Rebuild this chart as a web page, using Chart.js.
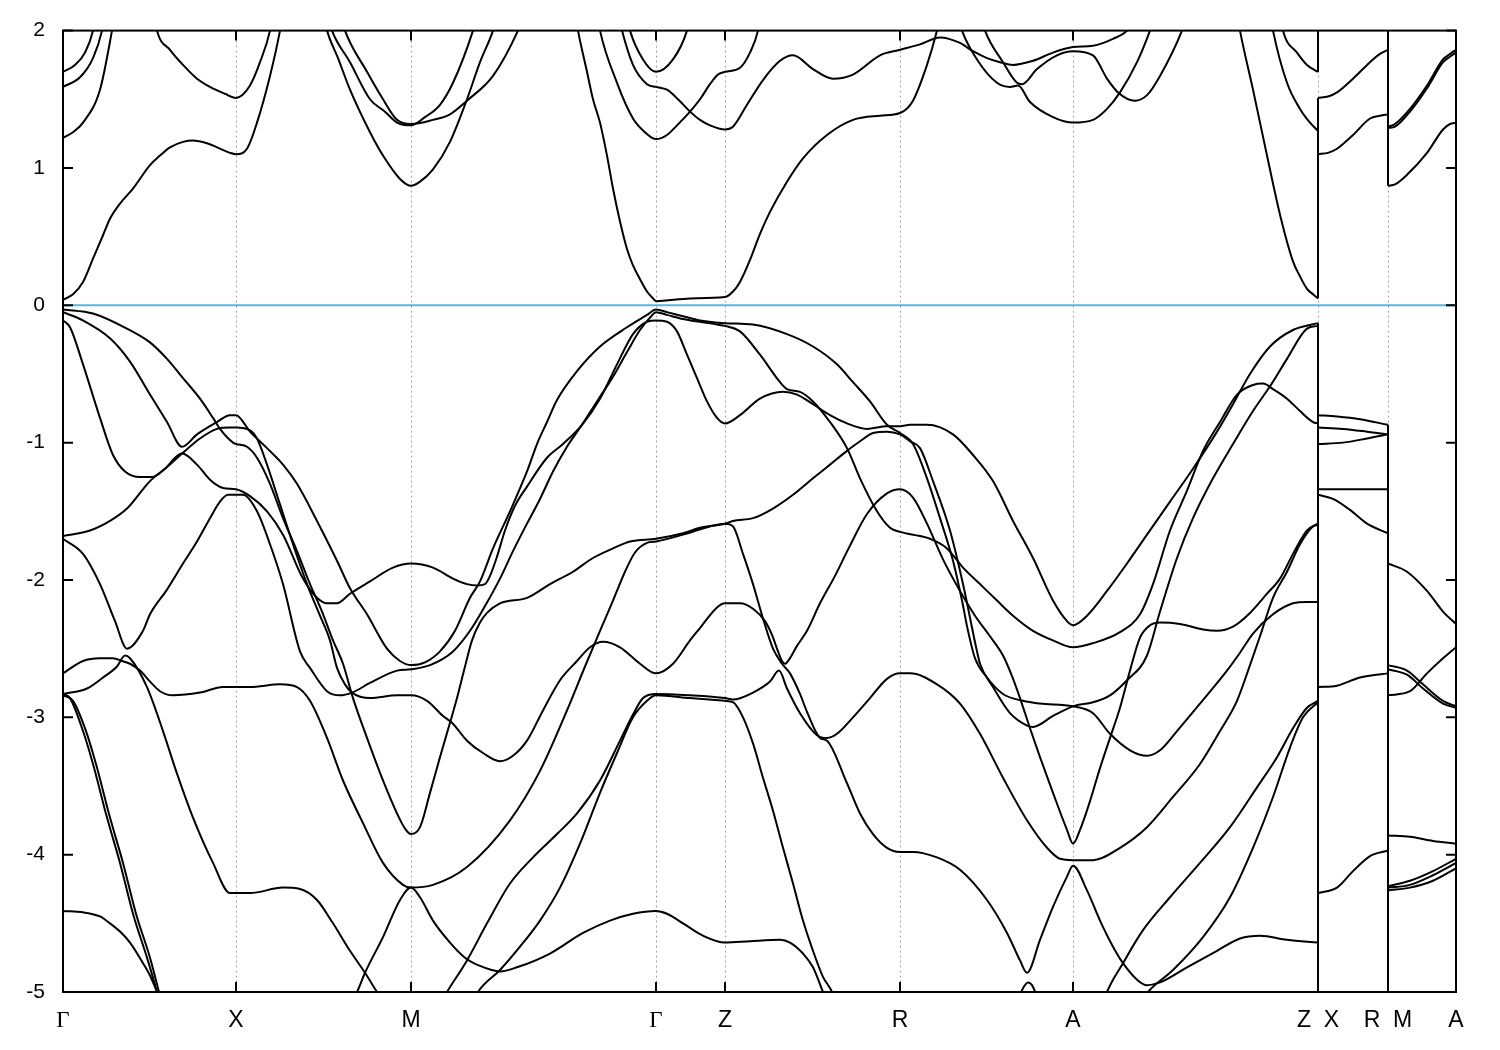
<!DOCTYPE html>
<html>
<head>
<meta charset="utf-8">
<script src="https://cdn.jsdelivr.net/npm/chart.js@4.4.1/dist/chart.umd.min.js"></script>
<style>
  html, body { margin: 0; padding: 0; background: #ffffff; }
  #wrap { width: 1500px; height: 1050px; }
</style>
</head>
<body>
<div id="wrap"><canvas id="bands" width="1500" height="1050"></canvas></div>
<script>
// k-path: high-symmetry points (path distance) and their labels
const kTicks = [0, 173, 348, 593, 662, 837, 1010, 1255, 1325, 1393];
const kLabels = ['Γ', 'X', 'M', 'Γ', 'Z', 'R', 'A', 'Z  X', 'R  M', 'A'];
const energyTicks = [-5, -4, -3, -2, -1, 0, 1, 2];
const fermiLevel = 0;

// conduction bands, [k, E in eV]
const cond01 = [[0,0.04],[10,0.08],[20,0.17],[30,0.34],[40,0.51],[47,0.63],[57,0.74],[70,0.85],[87,1.02],[97,1.09],[107,1.15],[120,1.19],[130,1.20],[144,1.18],[154,1.15],[167,1.11],[173,1.10],[184,1.14],[194,1.33],[207,1.67],[217,2.0],[220,2.13]];
const cond02 = [[0,1.22],[10,1.26],[20,1.33],[37,1.57],[49,2.0],[52,2.13]];
const cond03 = [[0,1.59],[17,1.66],[30,1.80],[39,2.0],[42,2.13]];
const cond04 = [[0,1.70],[12,1.75],[22,1.84],[30,2.0],[33,2.13]];
const cond05 = [[91,2.13],[94,2.0],[107,1.86],[120,1.75],[134,1.65],[147,1.59],[162,1.54],[173,1.51],[187,1.60],[197,1.77],[207,2.0],[210,2.13]];
const cond06 = [[260,2.13],[264,2.0],[275,1.80],[287,1.57],[307,1.26],[320,1.09],[337,0.92],[348,0.87],[357,0.90],[370,0.99],[387,1.19],[404,1.50],[417,1.77],[430,2.0],[435,2.13]];
const cond07 = [[264,2.13],[269,2.0],[287,1.77],[307,1.50],[322,1.41],[334,1.33],[348,1.31],[362,1.37],[377,1.46],[390,1.62],[410,2.0],[415,2.13]];
const cond08 = [[277,2.13],[282,2.0],[304,1.70],[320,1.50],[334,1.35],[348,1.32],[370,1.35],[387,1.39],[404,1.49],[430,1.67],[455,2.0],[462,2.13]];
const cond09 = [[512,2.13],[515,2.0],[524,1.70],[530,1.50],[537,1.33],[544,1.09],[550,0.85],[557,0.61],[564,0.41],[570,0.29],[577,0.19],[584,0.10],[590,0.05],[593,0.03],[627,0.05],[662,0.06],[670,0.10],[677,0.17],[687,0.33],[697,0.52],[707,0.68],[724,0.90],[740,1.07],[764,1.24],[790,1.35],[817,1.38],[837,1.40],[850,1.49],[864,1.75],[874,2.0],[878,2.13]];
const cond10 = [[534,2.13],[537,2.0],[554,1.62],[570,1.36],[582,1.26],[593,1.21],[604,1.24],[614,1.31],[627,1.41],[637,1.50],[647,1.61],[655,1.68],[662,1.70],[677,1.73],[687,1.84],[695,2.0],[698,2.13]];
const cond11 = [[555,2.13],[559,2.0],[570,1.75],[584,1.61],[593,1.59],[604,1.57],[615,1.50],[627,1.41],[637,1.35],[647,1.31],[662,1.28],[670,1.30],[684,1.46],[700,1.64],[717,1.78],[730,1.82],[750,1.72],[770,1.65],[790,1.68],[817,1.82],[837,1.86],[857,1.90],[877,1.95],[897,1.91],[910,1.85],[924,1.80],[937,1.77],[950,1.75],[970,1.78],[990,1.84],[1010,1.88],[1030,1.89],[1050,1.94],[1064,2.0],[1072,2.09]];
const cond12 = [[563,2.13],[567,2.0],[580,1.79],[593,1.70],[610,1.79],[624,2.0],[628,2.13]];
const cond13 = [[894,2.13],[899,2.0],[914,1.79],[934,1.62],[947,1.59],[955,1.60],[967,1.48],[990,1.37],[1010,1.33],[1030,1.35],[1044,1.43],[1057,1.55],[1074,1.77],[1087,2.0],[1093,2.13]];
const cond14 = [[917,2.13],[922,2.0],[940,1.77],[954,1.62],[959,1.61],[974,1.72],[994,1.82],[1010,1.85],[1030,1.82],[1044,1.65],[1055,1.55],[1072,1.49],[1084,1.53],[1097,1.67],[1119,2.0],[1125,2.13]];
const cond15 = [[1174,2.13],[1177,2.0],[1190,1.57],[1204,1.09],[1217,0.66],[1230,0.32],[1237,0.21],[1244,0.12],[1250,0.08],[1255,0.05]];
const cond16 = [[1207,2.13],[1210,2.0],[1224,1.62],[1237,1.43],[1247,1.33],[1255,1.27]];
const cond17 = [[1217,2.13],[1220,2.0],[1234,1.84],[1244,1.75],[1255,1.70]];
const cond18 = [[1255,1.51],[1265,1.52],[1274,1.55],[1290,1.65],[1307,1.77],[1317,1.83],[1325,1.86]];
const cond19 = [[1255,1.10],[1265,1.11],[1274,1.14],[1290,1.24],[1307,1.36],[1317,1.38],[1325,1.39]];
const cond20 = [[1325,1.30],[1332,1.32],[1347,1.43],[1364,1.60],[1380,1.79],[1387,1.83],[1393,1.86]];
const cond21 = [[1325,1.29],[1332,1.30],[1347,1.41],[1364,1.58],[1380,1.77],[1387,1.81],[1393,1.84]];
const cond22 = [[1325,0.87],[1332,0.88],[1344,0.95],[1364,1.11],[1380,1.28],[1387,1.32],[1393,1.33]];

// valence bands
const val01 = [[0,-0.03],[30,-0.06],[64,-0.17],[87,-0.27],[104,-0.39],[120,-0.53],[137,-0.68],[150,-0.82],[157,-0.90],[170,-1.00],[173,-1.01],[184,-1.03],[194,-1.11],[207,-1.30],[220,-1.55],[234,-1.79],[247,-2.03],[259,-2.23],[270,-2.44],[280,-2.61],[290,-2.86],[304,-3.15],[320,-3.46],[334,-3.70],[342,-3.81],[348,-3.85],[357,-3.80],[367,-3.55],[377,-3.29],[387,-3.04],[394,-2.86],[402,-2.63],[409,-2.44],[417,-2.31],[424,-2.24],[437,-2.17],[464,-2.13],[487,-2.03],[510,-1.94],[530,-1.84],[550,-1.77],[567,-1.72],[593,-1.70],[620,-1.66],[637,-1.62],[662,-1.59],[670,-1.57],[690,-1.55],[710,-1.48],[730,-1.38],[750,-1.26],[767,-1.16],[784,-1.06],[797,-0.99],[810,-0.93],[824,-0.92],[837,-0.94],[847,-0.99],[857,-1.04],[870,-1.28],[887,-1.64],[900,-2.03],[914,-2.52],[917,-2.61],[930,-2.78],[947,-2.97],[964,-3.06],[970,-3.07],[990,-2.99],[1010,-2.92],[1030,-2.89],[1047,-2.84],[1064,-2.73],[1084,-2.55],[1097,-2.23],[1114,-1.84],[1130,-1.55],[1150,-1.26],[1170,-1.01],[1190,-0.77],[1207,-0.59],[1224,-0.39],[1244,-0.17],[1255,-0.15]];
const val02 = [[0,-0.05],[20,-0.11],[47,-0.24],[67,-0.41],[87,-0.65],[104,-0.85],[119,-1.03],[134,-0.94],[154,-0.85],[167,-0.80],[173,-0.80],[187,-0.92],[204,-1.04],[220,-1.16],[234,-1.30],[254,-1.57],[274,-1.86],[287,-2.06],[304,-2.25],[324,-2.50],[337,-2.59],[348,-2.62],[362,-2.60],[377,-2.52],[392,-2.37],[407,-2.13],[417,-2.01],[430,-1.77],[447,-1.50],[464,-1.21],[474,-1.01],[484,-0.85],[494,-0.69],[514,-0.48],[537,-0.30],[564,-0.16],[584,-0.07],[593,-0.03],[604,-0.05],[620,-0.08],[637,-0.11],[662,-0.13],[690,-0.14],[724,-0.21],[750,-0.30],[774,-0.43],[790,-0.56],[807,-0.70],[824,-0.87],[837,-0.93],[850,-1.01],[864,-1.26],[877,-1.55],[890,-1.86],[899,-2.15],[905,-2.37],[912,-2.57],[924,-2.71],[940,-2.83],[960,-2.88],[977,-2.90],[1010,-2.92],[1030,-2.97],[1047,-3.12],[1067,-3.24],[1084,-3.28],[1097,-3.24],[1114,-3.10],[1137,-2.90],[1164,-2.66],[1177,-2.53],[1190,-2.39],[1210,-2.25],[1230,-2.17],[1244,-2.16],[1255,-2.16]];
const val03 = [[0,-0.11],[7,-0.16],[20,-0.43],[37,-0.82],[50,-1.09],[62,-1.21],[77,-1.25],[89,-1.25],[102,-1.19],[119,-1.08],[137,-0.97],[154,-0.90],[167,-0.89],[173,-0.89],[187,-0.91],[194,-0.97],[204,-1.16],[217,-1.45],[230,-1.74],[244,-2.03],[257,-2.26],[267,-2.44],[274,-2.64],[282,-2.76],[289,-2.82],[307,-2.86],[334,-2.84],[348,-2.84],[364,-2.88],[380,-2.99],[389,-3.04],[404,-3.17],[420,-3.26],[437,-3.32],[450,-3.28],[464,-3.17],[480,-2.95],[497,-2.73],[514,-2.59],[527,-2.49],[540,-2.45],[557,-2.49],[577,-2.61],[593,-2.68],[610,-2.61],[627,-2.44],[637,-2.35],[654,-2.20],[662,-2.17],[677,-2.17],[690,-2.21],[702,-2.30],[709,-2.40],[715,-2.52],[719,-2.59],[722,-2.61],[726,-2.58],[734,-2.48],[744,-2.37],[757,-2.17],[772,-1.97],[787,-1.75],[804,-1.52],[824,-1.37],[837,-1.34],[850,-1.40],[864,-1.59],[880,-1.85],[897,-2.08],[912,-2.26],[927,-2.41],[940,-2.55],[949,-2.70],[957,-2.86],[967,-3.08],[977,-3.29],[990,-3.55],[1004,-3.82],[1010,-3.92],[1017,-3.82],[1027,-3.61],[1037,-3.37],[1047,-3.15],[1057,-2.93],[1067,-2.66],[1077,-2.42],[1087,-2.33],[1097,-2.31],[1117,-2.32],[1140,-2.36],[1154,-2.37],[1170,-2.34],[1187,-2.24],[1204,-2.10],[1217,-1.99],[1230,-1.81],[1244,-1.64],[1255,-1.59]];
const val04 = [[0,-1.68],[27,-1.64],[47,-1.57],[64,-1.48],[87,-1.28],[102,-1.19],[119,-1.08],[134,-1.16],[147,-1.27],[160,-1.33],[173,-1.34],[187,-1.39],[204,-1.50],[220,-1.67],[240,-1.99],[254,-2.13],[264,-2.17],[274,-2.17],[287,-2.10],[307,-2.01],[330,-1.91],[348,-1.88],[370,-1.91],[390,-1.99],[404,-2.03],[414,-2.04],[422,-2.03],[427,-1.97],[434,-1.83],[442,-1.64],[452,-1.46],[464,-1.32],[484,-1.11],[500,-1.01],[519,-0.87],[537,-0.68],[554,-0.43],[570,-0.21],[584,-0.12],[593,-0.11],[604,-0.12],[614,-0.19],[624,-0.36],[634,-0.53],[644,-0.70],[654,-0.82],[662,-0.86],[677,-0.80],[697,-0.68],[720,-0.63],[734,-0.65],[750,-0.72],[767,-0.80],[784,-0.86],[804,-0.90],[824,-0.88],[837,-0.88],[847,-0.87],[864,-0.87],[890,-0.94],[910,-1.09],[930,-1.28],[950,-1.57],[970,-1.84],[990,-2.15],[1004,-2.30],[1010,-2.33],[1024,-2.26],[1044,-2.08],[1064,-1.88],[1084,-1.67],[1107,-1.43],[1130,-1.19],[1154,-0.92],[1170,-0.72],[1187,-0.50],[1207,-0.30],[1230,-0.18],[1255,-0.13]];
const val05 = [[0,-1.70],[20,-1.81],[37,-2.03],[52,-2.30],[64,-2.50],[80,-2.37],[87,-2.25],[104,-2.07],[120,-1.88],[134,-1.72],[147,-1.55],[157,-1.43],[165,-1.38],[173,-1.38],[180,-1.38],[194,-1.50],[207,-1.74],[220,-2.03],[237,-2.52],[247,-2.64],[264,-2.81],[277,-2.84],[289,-2.82],[307,-2.75],[334,-2.66],[348,-2.65],[367,-2.62],[390,-2.52],[407,-2.37],[422,-2.19],[437,-1.99],[450,-1.79],[464,-1.59],[477,-1.41],[490,-1.21],[504,-1.03],[519,-0.87],[534,-0.70],[550,-0.52],[564,-0.34],[577,-0.18],[587,-0.09],[593,-0.05],[604,-0.07],[620,-0.10],[654,-0.14],[662,-0.15],[677,-0.19],[697,-0.36],[717,-0.56],[724,-0.61],[737,-0.63],[750,-0.70],[767,-0.85],[784,-1.04],[797,-1.26],[814,-1.50],[827,-1.62],[837,-1.65],[857,-1.68],[867,-1.70],[884,-1.77],[900,-1.91],[917,-2.03],[934,-2.15],[950,-2.26],[970,-2.37],[990,-2.44],[1010,-2.49],[1030,-2.46],[1057,-2.38],[1077,-2.25],[1090,-2.03],[1107,-1.64],[1124,-1.35],[1140,-1.06],[1157,-0.85],[1174,-0.65],[1190,-0.58],[1200,-0.57],[1210,-0.61],[1224,-0.68],[1237,-0.77],[1250,-0.85],[1255,-0.86]];
const val06 = [[0,-2.68],[20,-2.59],[37,-2.57],[50,-2.57],[59,-2.59],[67,-2.61],[77,-2.66],[87,-2.74],[97,-2.81],[110,-2.84],[137,-2.82],[160,-2.78],[173,-2.78],[187,-2.78],[217,-2.76],[234,-2.78],[247,-2.88],[264,-3.15],[280,-3.46],[300,-3.77],[320,-4.06],[340,-4.22],[348,-4.24],[370,-4.22],[404,-4.09],[447,-3.75],[477,-3.39],[504,-2.95],[522,-2.63],[537,-2.37],[550,-2.15],[562,-1.94],[572,-1.80],[584,-1.73],[593,-1.72],[620,-1.67],[647,-1.61],[662,-1.59],[670,-1.61],[680,-1.81],[690,-2.03],[700,-2.28],[710,-2.50],[719,-2.61],[727,-2.68],[737,-2.83],[744,-2.96],[757,-3.15],[764,-3.17],[784,-3.48],[797,-3.70],[810,-3.85],[824,-3.95],[837,-3.98],[850,-3.98],[874,-4.02],[897,-4.11],[924,-4.33],[944,-4.57],[957,-4.77],[964,-4.86],[977,-4.62],[990,-4.38],[1004,-4.16],[1010,-4.08],[1024,-4.26],[1037,-4.48],[1050,-4.67],[1060,-4.79],[1074,-4.91],[1084,-4.95],[1097,-4.93],[1124,-4.82],[1154,-4.70],[1177,-4.61],[1197,-4.59],[1224,-4.62],[1255,-4.64]];
const val07 = [[0,-2.83],[24,-2.79],[40,-2.71],[54,-2.63],[62,-2.55],[67,-2.57],[84,-2.78],[100,-3.10],[114,-3.41],[130,-3.73],[150,-4.06],[167,-4.28],[173,-4.28],[187,-4.28],[220,-4.24],[237,-4.25],[254,-4.33],[270,-4.50],[287,-4.70],[302,-4.86],[314,-5.0],[322,-5.09]];
const val08 = [[0,-2.83],[7,-2.86],[20,-3.10],[30,-3.34],[44,-3.73],[57,-4.06],[70,-4.43],[84,-4.75],[94,-5.0],[97,-5.09]];
const val09 = [[0,-2.84],[10,-2.88],[23,-3.10],[33,-3.34],[47,-3.73],[60,-4.06],[73,-4.43],[87,-4.75],[96,-5.0],[99,-5.09]];
const val10 = [[0,-4.41],[20,-4.42],[37,-4.45],[47,-4.50],[57,-4.56],[67,-4.64],[80,-4.79],[87,-4.88],[94,-5.0],[97,-5.06]];
const val11 = [[282,-5.13],[294,-5.0],[302,-4.86],[320,-4.60],[337,-4.33],[348,-4.24],[357,-4.31],[370,-4.48],[387,-4.64],[402,-4.75],[417,-4.81],[437,-4.85],[454,-4.82],[487,-4.72],[520,-4.57],[547,-4.48],[570,-4.43],[593,-4.41],[604,-4.43],[620,-4.50],[640,-4.59],[662,-4.64],[687,-4.63],[717,-4.62],[727,-4.64],[740,-4.72],[750,-4.82],[760,-5.0],[765,-5.09]];
const val12 = [[377,-5.09],[384,-5.0],[404,-4.77],[424,-4.50],[447,-4.21],[470,-4.02],[494,-3.85],[514,-3.70],[537,-3.46],[557,-3.17],[570,-2.98],[580,-2.86],[593,-2.83],[627,-2.84],[662,-2.86],[670,-2.87],[690,-2.82],[707,-2.74],[716,-2.66],[724,-2.79],[737,-2.97],[754,-3.13],[764,-3.15],[774,-3.12],[790,-3.00],[807,-2.86],[824,-2.72],[837,-2.68],[847,-2.68],[874,-2.76],[897,-2.90],[917,-3.12],[940,-3.44],[964,-3.75],[984,-3.95],[997,-4.03],[1010,-4.04],[1030,-4.04],[1057,-3.95],[1084,-3.80],[1110,-3.58],[1137,-3.34],[1157,-3.10],[1174,-2.88],[1187,-2.62],[1197,-2.41],[1210,-2.13],[1224,-1.94],[1237,-1.74],[1250,-1.61],[1255,-1.60]];
const val13 = [[409,-5.09],[415,-5.0],[437,-4.84],[457,-4.67],[477,-4.48],[497,-4.24],[517,-3.92],[537,-3.55],[554,-3.26],[570,-3.00],[584,-2.88],[593,-2.84],[627,-2.86],[662,-2.88],[670,-2.89],[680,-3.00],[690,-3.19],[700,-3.44],[710,-3.68],[720,-3.95],[730,-4.21],[740,-4.48],[750,-4.70],[760,-4.89],[769,-5.0],[773,-5.09]];
const val14 = [[1040,-5.09],[1044,-5.0],[1060,-4.79],[1080,-4.55],[1107,-4.31],[1137,-4.06],[1167,-3.80],[1194,-3.51],[1214,-3.29],[1230,-3.08],[1244,-2.93],[1255,-2.88]];
const val15 = [[1077,-5.09],[1085,-5.0],[1110,-4.84],[1140,-4.60],[1167,-4.31],[1190,-3.95],[1210,-3.58],[1227,-3.22],[1240,-3.00],[1255,-2.89]];
const val16 = [[955,-5.05],[961,-4.96],[965,-4.93],[969,-4.95],[975,-5.05]];

// X-R and M-A pieces after the path breaks
const valXR1 = [[1255,-0.80],[1274,-0.81],[1297,-0.83],[1325,-0.87]];
const valXR2 = [[1255,-0.89],[1280,-0.90],[1304,-0.92],[1325,-0.94]];
const valXR3 = [[1255,-1.01],[1280,-1.00],[1304,-0.97],[1325,-0.94]];
const valXR4 = [[1255,-1.34],[1290,-1.34],[1325,-1.34]];
const valXR5 = [[1255,-1.38],[1270,-1.41],[1287,-1.49],[1304,-1.59],[1325,-1.66]];
const valXR6 = [[1255,-2.78],[1274,-2.77],[1297,-2.71],[1325,-2.68]];
const valXR7 = [[1255,-4.28],[1274,-4.24],[1290,-4.12],[1307,-4.01],[1325,-3.97]];
const valMA1 = [[1325,-1.88],[1344,-1.94],[1364,-2.08],[1380,-2.23],[1393,-2.32]];
const valMA2 = [[1325,-2.62],[1344,-2.66],[1360,-2.76],[1380,-2.88],[1393,-2.92]];
const valMA3 = [[1325,-2.65],[1344,-2.69],[1360,-2.79],[1380,-2.90],[1393,-2.93]];
const valMA4 = [[1325,-2.84],[1347,-2.81],[1364,-2.68],[1377,-2.59],[1393,-2.49]];
const valMA5 = [[1325,-3.86],[1347,-3.87],[1370,-3.90],[1393,-3.92]];
const valMA6 = [[1325,-4.23],[1347,-4.19],[1370,-4.12],[1393,-4.03]];
const valMA7 = [[1325,-4.24],[1347,-4.22],[1370,-4.15],[1393,-4.06]];
const valMA8 = [[1325,-4.26],[1347,-4.24],[1370,-4.19],[1393,-4.10]];

// vertical joins where the band file jumps across a path break: [k, E from, E to]
const breakJumps = [[1255, 1.70, 2.2], [1255, 0.05, 1.51], [1255, -5.2, -0.13], [1325, 0.87, 2.2], [1325, -5.2, -0.87]];

const allBands = [
  cond01, cond02, cond03, cond04, cond05, cond06, cond07, cond08, cond09, cond10, cond11,
  cond12, cond13, cond14, cond15, cond16, cond17, cond18, cond19, cond20, cond21, cond22,
  val01, val02, val03, val04, val05, val06, val07, val08, val09, val10, val11, val12,
  val13, val14, val15, val16,
  valXR1, valXR2, valXR3, valXR4, valXR5, valXR6, valXR7,
  valMA1, valMA2, valMA3, valMA4, valMA5, valMA6, valMA7, valMA8
];

const toXY = pts => pts.map(p => ({ x: p[0], y: p[1] }));

const datasets = allBands.map(b => ({
  data: toXY(b),
  borderColor: '#000000',
  borderWidth: 2,
  pointRadius: 0,
  fill: false,
  cubicInterpolationMode: 'monotone'
}));

breakJumps.forEach(j => {
  datasets.push({
    data: [{ x: j[0], y: j[1] }, { x: j[0], y: j[2] }],
    borderColor: '#000000', borderWidth: 2, pointRadius: 0, fill: false
  });
});

// Fermi level, last so it sits under the bands
datasets.push({
  data: [{ x: kTicks[0], y: fermiLevel }, { x: kTicks[kTicks.length - 1], y: fermiLevel }],
  borderColor: '#56b4e9', borderWidth: 2, pointRadius: 0, fill: false
});

// frame, inner tick marks and dashed lines at the symmetry points
const framePlugin = {
  id: 'kpathFrame',
  beforeDatasetsDraw(chart) {
    const { ctx, chartArea: a, scales: { x } } = chart;
    ctx.save();
    ctx.strokeStyle = '#a0a0a0';
    ctx.lineWidth = 1;
    ctx.setLineDash([2, 3]);
    kTicks.slice(1, -1).forEach(k => {
      const px = Math.round(x.getPixelForValue(k)) + 0.5;
      ctx.beginPath();
      ctx.moveTo(px, a.top);
      ctx.lineTo(px, a.bottom);
      ctx.stroke();
    });
    ctx.restore();
  },
  afterDatasetsDraw(chart) {
    const { ctx, chartArea: a, scales: { x, y } } = chart;
    ctx.save();
    ctx.strokeStyle = '#000000';
    ctx.lineWidth = 2;
    ctx.beginPath();
    kTicks.slice(1, -1).forEach(k => {
      const px = x.getPixelForValue(k);
      ctx.moveTo(px, a.bottom); ctx.lineTo(px, a.bottom - 10);
      ctx.moveTo(px, a.top); ctx.lineTo(px, a.top + 10);
    });
    energyTicks.forEach(e => {
      const py = y.getPixelForValue(e);
      ctx.moveTo(a.left, py); ctx.lineTo(a.left + 10, py);
      ctx.moveTo(a.right, py); ctx.lineTo(a.right - 10, py);
    });
    ctx.stroke();
    ctx.strokeRect(a.left, a.top, a.right - a.left, a.bottom - a.top);
    ctx.restore();
  }
};

new Chart(document.getElementById('bands').getContext('2d'), {
  type: 'line',
  data: { datasets: datasets },
  plugins: [framePlugin],
  options: {
    responsive: false,
    animation: false,
    events: [],
    layout: { padding: { top: 28, right: 44, left: 0, bottom: 0 } },
    plugins: { legend: { display: false }, tooltip: { enabled: false } },
    scales: {
      x: {
        type: 'linear',
        min: kTicks[0],
        max: kTicks[kTicks.length - 1],
        grid: { display: false, drawTicks: false },
        border: { display: false },
        afterBuildTicks: axis => { axis.ticks = kTicks.map(v => ({ value: v })); },
        afterFit: axis => { axis.height = 58; },
        ticks: {
          autoSkip: false,
          maxRotation: 0,
          padding: 15,
          color: '#000000',
          font: ctx => ({ family: kLabels[ctx.index] === 'Γ' ? 'Liberation Serif' : 'Liberation Sans', size: 23 }),
          callback: (v, i) => kLabels[i]
        }
      },
      y: {
        type: 'linear',
        min: -5,
        max: 2,
        grid: { display: false, drawTicks: false },
        border: { display: false },
        afterBuildTicks: axis => { axis.ticks = energyTicks.map(v => ({ value: v })); },
        afterFit: axis => { axis.width = 63; },
        ticks: {
          padding: 18,
          color: '#000000',
          font: { family: 'Liberation Sans', size: 21 },
          callback: v => String(v)
        }
      }
    }
  }
});
</script>
</body>
</html>
